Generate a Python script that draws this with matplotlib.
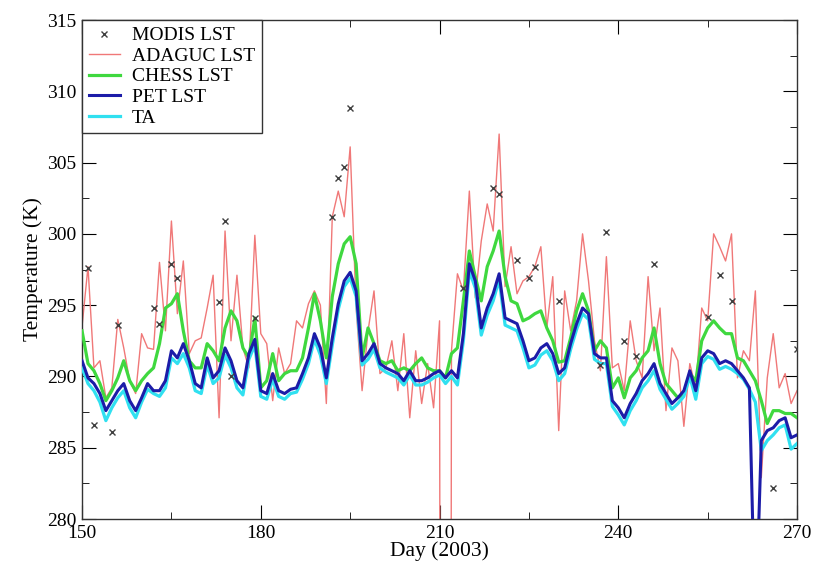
import matplotlib
matplotlib.use('Agg')
import matplotlib.pyplot as plt
from matplotlib.ticker import MultipleLocator
import numpy as np

plt.rcParams['font.family'] = ['Liberation Serif', 'DejaVu Serif']

# days of 2003, one value per day
days = np.arange(150, 271)

modis_days = [151, 152, 155, 156, 162, 163, 165, 166, 173, 174, 175, 179,
              192, 193, 194, 195, 214, 219, 220, 223, 225, 226, 230, 237,
              238, 241, 243, 246, 255, 257, 259, 266, 270]
modis_lst = [297.6, 286.6, 286.1, 293.6, 294.8, 293.7, 297.9, 296.9, 295.2, 300.9, 290.0, 294.1,
             301.2, 303.9, 304.7, 308.8, 296.2, 303.2, 302.8, 298.2, 296.9, 297.7, 295.3, 290.8,
             300.1, 292.5, 291.4, 297.9, 294.2, 297.1, 295.3, 282.2, 291.9]

# day 211 is a fill value (drops off the axis)
adaguc_lst = [293.5, 297.7, 290.6, 291.1, 288.5, 289.2, 294.0, 292.0, 289.7, 288.8,
              293.0, 292.0, 291.9, 298.0, 293.2, 300.9, 294.4, 298.1, 291.6, 292.5,
              292.7, 294.8, 297.1, 287.1, 300.2, 292.5, 297.1, 292.0, 290.6, 299.9,
              293.0, 292.3, 288.3, 292.0, 290.2, 290.9, 293.9, 293.4, 295.1, 296.0,
              295.0, 288.1, 301.2, 303.0, 301.2, 306.1, 294.8, 289.0, 293.2, 296.0,
              290.2, 290.6, 292.5, 289.0, 293.0, 287.1, 291.8, 288.1, 290.9, 287.8,
              293.9, 0.0, 291.8, 297.2, 296.0, 303.0, 295.5, 299.5, 302.1, 300.2,
              307.0, 296.3, 299.1, 295.8, 296.7, 297.0, 297.7, 299.1, 293.4, 297.0,
              286.2, 296.0, 293.2, 295.3, 300.0, 296.7, 292.5, 290.4, 298.4, 290.6,
              290.9, 289.0, 293.9, 291.1, 289.9, 297.0, 291.8, 294.8, 287.6, 292.0,
              291.1, 286.5, 290.9, 289.2, 294.8, 293.9, 300.0, 299.1, 298.1, 300.0,
              289.9, 291.8, 291.1, 296.0, 282.9, 289.9, 293.0, 289.2, 290.2, 288.1,
              289.0]

chess_lst = [293.2, 290.9, 290.4, 289.5, 288.3, 289.0, 289.9, 291.1, 289.7, 289.0,
             289.7, 290.2, 290.6, 292.3, 294.8, 295.1, 295.8, 293.2, 291.1, 290.6,
             290.6, 292.3, 291.8, 291.1, 293.4, 294.6, 293.9, 292.0, 291.3, 294.1,
             289.2, 289.7, 291.6, 289.7, 290.2, 290.4, 290.4, 291.3, 293.4, 295.8,
             293.9, 291.3, 295.6, 297.9, 299.3, 299.8, 297.9, 291.3, 293.4, 292.3,
             291.1, 290.9, 291.1, 290.4, 290.6, 290.4, 290.9, 291.3, 290.6, 290.4,
             290.4, 289.9, 291.6, 292.0, 295.3, 298.8, 297.0, 295.3, 297.7, 298.8,
             300.2, 297.0, 295.3, 295.1, 293.9, 294.1, 294.4, 294.6, 293.4, 292.5,
             291.0, 291.1, 292.7, 294.6, 295.8, 294.6, 291.8, 292.5, 292.0, 289.2,
             289.9, 288.5, 289.9, 290.4, 291.3, 291.8, 293.4, 290.9, 289.5, 289.0,
             288.5, 288.8, 290.2, 289.7, 292.5, 293.4, 293.9, 293.4, 293.0, 293.0,
             291.3, 291.1, 290.4, 289.7, 288.3, 286.7, 287.6, 287.6, 287.4, 287.4,
             287.1]

pet_lst = [291.1, 289.9, 289.5, 288.8, 287.6, 288.3, 289.0, 289.5, 288.3, 287.6,
           288.5, 289.5, 289.0, 289.0, 289.7, 291.8, 291.3, 292.3, 291.1, 289.5,
           289.2, 291.3, 289.9, 290.4, 292.0, 291.1, 289.7, 289.2, 291.6, 292.6,
           289.0, 288.8, 290.2, 289.0, 288.8, 289.1, 289.2, 290.2, 291.3, 293.0,
           292.0, 289.9, 292.7, 295.1, 296.7, 297.3, 296.0, 291.1, 291.6, 292.3,
           290.9, 290.6, 290.4, 290.2, 289.7, 290.4, 289.7, 289.7, 289.9, 290.2,
           290.4, 289.9, 290.4, 289.9, 293.0, 297.9, 296.7, 293.4, 294.8, 295.8,
           297.2, 294.1, 293.9, 293.7, 292.5, 291.1, 291.3, 292.0, 292.3, 291.6,
           290.2, 290.6, 292.3, 293.7, 294.8, 294.4, 291.6, 291.3, 291.3, 288.3,
           287.8, 287.1, 288.1, 288.8, 289.7, 290.2, 290.9, 289.5, 288.8, 288.1,
           288.5, 289.0, 290.4, 289.0, 291.3, 291.8, 291.6, 290.9, 291.1, 290.9,
           290.4, 289.9, 289.2, 272.0, 285.5, 286.2, 286.4, 286.9, 287.1, 285.7,
           285.9]

ta = [290.6, 289.5, 289.0, 288.2, 286.9, 287.8, 288.5, 289.0, 287.8, 287.1,
      288.2, 289.1, 288.8, 288.6, 289.2, 291.3, 290.9, 291.6, 290.6, 289.0,
      288.8, 290.8, 289.5, 289.9, 291.5, 290.6, 289.2, 288.7, 291.2, 292.2,
      288.6, 288.4, 289.8, 288.6, 288.4, 288.8, 288.9, 289.8, 290.9, 292.6,
      291.5, 289.5, 292.2, 294.7, 296.3, 296.9, 295.6, 290.8, 291.2, 291.9,
      290.6, 290.3, 290.1, 289.9, 289.4, 290.1, 289.4, 289.4, 289.6, 289.9,
      290.1, 289.5, 290.0, 289.4, 292.5, 297.4, 296.2, 292.9, 294.3, 295.3,
      296.8, 293.6, 293.4, 293.2, 292.0, 290.6, 290.8, 291.5, 291.8, 291.1,
      289.7, 290.2, 291.9, 293.3, 294.4, 294.0, 291.2, 290.9, 290.9, 287.9,
      287.3, 286.6, 287.6, 288.3, 289.2, 289.7, 290.4, 289.1, 288.4, 287.7,
      288.1, 288.6, 290.0, 288.4, 290.9, 291.4, 291.2, 290.5, 290.7, 290.5,
      290.2, 289.8, 289.1, 288.2, 284.8, 285.5, 285.9, 286.4, 286.6, 284.9,
      285.3]

fig = plt.figure(figsize=(8.13, 5.65), dpi=100)
ax = fig.add_axes([0.1009, 0.0814, 0.8795, 0.8832])

ax.plot(modis_days, modis_lst, 'x', color='#404040', ms=4, mew=1, label='MODIS LST', zorder=6)
ax.plot(days, adaguc_lst, color='#f07878', lw=1, label='ADAGUC LST', zorder=2)
ax.plot(days, chess_lst, color='#3fd83f', lw=2.3, label='CHESS LST', zorder=3)
ax.plot(days, pet_lst, color='#1c1ca8', lw=2.2, label='PET LST', zorder=5)
ax.plot(days, ta, color='#30e0f0', lw=2.3, label='TA', zorder=4)

ax.set_xlim(150, 270)
ax.set_ylim(280, 315)
ax.xaxis.set_major_locator(MultipleLocator(30))
ax.xaxis.set_minor_locator(MultipleLocator(15))
ax.yaxis.set_major_locator(MultipleLocator(5))
ax.yaxis.set_minor_locator(MultipleLocator(2.5))
ax.tick_params(which='both', direction='in', top=True, right=True, labelsize=14, pad=4)
ax.tick_params(which='major', length=10)
ax.tick_params(which='minor', length=5)
for s in ax.spines.values():
    s.set_linewidth(1.0)
    s.set_color('#333333')

ax.set_xlabel('Day (2003)', fontsize=15.5, labelpad=0)
ax.set_ylabel('Temperature (K)', fontsize=15.5, labelpad=3)

leg = ax.legend(loc='upper left', fontsize=14, fancybox=False, framealpha=1,
                edgecolor='#333333', borderaxespad=0, labelspacing=0.15,
                handlelength=1.6, handletextpad=0.6, borderpad=0.35)
leg.get_frame().set_linewidth(1.0)

fig.savefig('out.png', dpi=100)
